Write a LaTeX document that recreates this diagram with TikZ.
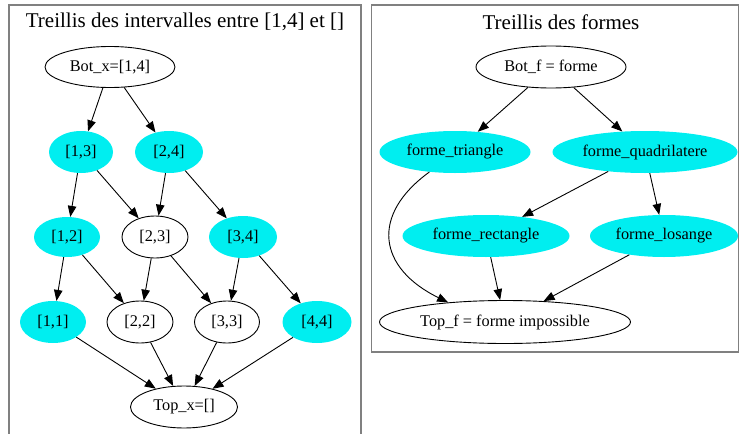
\documentclass[tikz,border=0pt]{standalone}
\usepackage{fontspec}
\setmainfont{Liberation Serif}
\usetikzlibrary{shapes.geometric,arrows.meta}
\definecolor{framegray}{RGB}{128,128,128}
\definecolor{gvcyan}{RGB}{0,238,240}
\tikzset{
  every node/.style={font=\fontsize{16.3}{19}\selectfont},
  plainnode/.style={ellipse,draw,line width=0.9pt,inner sep=0pt},
  cyannode/.style={ellipse,fill=gvcyan,inner sep=0pt},
  edge/.style={-{Triangle[length=11pt,width=8.5pt]},line width=0.9pt},
  framebox/.style={draw=framegray,line width=1.4pt},
  titletext/.style={font=\fontsize{21}{24}\selectfont}
}
\begin{document}
\begin{tikzpicture}[x=1pt,y=-1pt]
\useasboundingbox (0,0) rectangle (740,434);
% frames
\draw[framebox] (9,5) rectangle (361,445);
\draw[framebox] (371.5,5) rectangle (738.5,352);
\node[titletext] (t1) at (185,22) {Treillis des intervalles entre [1,4] et []};
\node[titletext] (t2) at (561,22) {Treillis des formes};
% left nodes
\node[plainnode,minimum width=130,minimum height=41] (botx) at (110,67) {Bot\_x=[1,4]};
\node[cyannode,minimum width=64,minimum height=42] (n13) at (81,152) {[1,3]};
\node[cyannode,minimum width=68,minimum height=42] (n24) at (169,152) {[2,4]};
\node[cyannode,minimum width=66,minimum height=40] (n12) at (67,237) {[1,2]};
\node[plainnode,minimum width=66,minimum height=42] (n23) at (155,237) {[2,3]};
\node[cyannode,minimum width=68,minimum height=42] (n34) at (243,237) {[3,4]};
\node[cyannode,minimum width=66,minimum height=42] (n11) at (53,322) {[1,1]};
\node[plainnode,minimum width=66,minimum height=42] (n22) at (140,322) {[2,2]};
\node[plainnode,minimum width=65,minimum height=42] (n33) at (227,322) {[3,3]};
\node[cyannode,minimum width=69,minimum height=42] (n44) at (317,322) {[4,4]};
\node[plainnode,minimum width=107,minimum height=42] (topx) at (184,407) {Top\_x=[]};
% left edges
\draw[edge] (botx) -- (n13);
\draw[edge] (botx) -- (n24);
\draw[edge] (n13) -- (n12);
\draw[edge] (n13) -- (n23);
\draw[edge] (n24) -- (n23);
\draw[edge] (n24) -- (n34);
\draw[edge] (n12) -- (n11);
\draw[edge] (n12) -- (n22);
\draw[edge] (n23) -- (n22);
\draw[edge] (n23) -- (n33);
\draw[edge] (n34) -- (n33);
\draw[edge] (n34) -- (n44);
\draw[edge] (n11) -- (topx);
\draw[edge] (n22) -- (topx);
\draw[edge] (n33) -- (topx);
\draw[edge] (n44) -- (topx);
% right nodes
\node[plainnode,minimum width=150,minimum height=42] (botf) at (551,67) {Bot\_f = forme};
\node[cyannode,minimum width=151,minimum height=42] (tri) at (455,152) {forme\_triangle};
\node[cyannode,minimum width=185,minimum height=42] (quad) at (645,152) {forme\_quadrilatere};
\node[cyannode,minimum width=167,minimum height=42] (rect) at (486,236) {forme\_rectangle};
\node[cyannode,minimum width=148,minimum height=42] (los) at (664,236) {forme\_losange};
\node[plainnode,minimum width=251,minimum height=43] (topf) at (505,322) {Top\_f = forme impossible};
% right edges
\draw[edge] (botf) -- (tri);
\draw[edge] (botf) -- (quad);
\draw[edge] (quad) -- (rect);
\draw[edge] (quad) -- (los);
\draw[edge] (tri.-142) .. controls (370,215) and (378,268) .. (topf.161);
\draw[edge] (rect) -- (topf);
\draw[edge] (los) -- (topf);
\end{tikzpicture}
\end{document}
